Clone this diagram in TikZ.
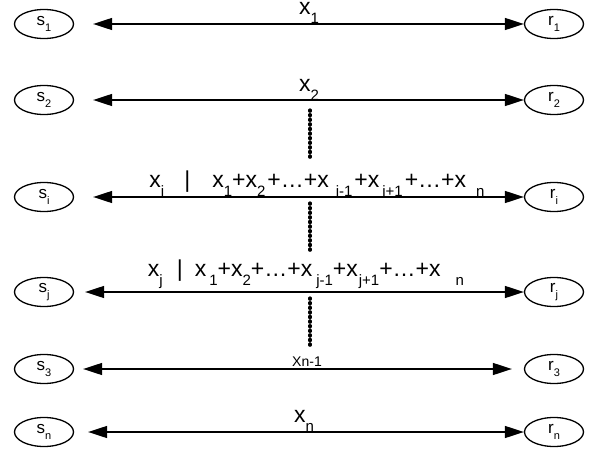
\documentclass[tikz,border=0pt]{standalone}
\usepackage{fontspec}
\setmainfont{Liberation Sans}
\usetikzlibrary{shapes.geometric,arrows.meta}
\newcommand{\lsub}[1]{\raisebox{-9pt}{\fontsize{15}{15}\selectfont #1}}
\newcommand{\nsub}[1]{\raisebox{-6pt}{\fontsize{11}{11}\selectfont #1}}

\begin{document}
\begin{tikzpicture}[x=1pt, y=-1pt,
    every node/.style={font=\fontsize{23}{23}\selectfont, inner sep=0pt},
    party/.style={draw, ellipse, line width=1.3pt, inner sep=0pt,
      minimum width=59pt, minimum height=29pt, font=\fontsize{17}{17}\selectfont},
    link/.style={{Triangle[length=19pt,width=12pt]}-{Triangle[length=19pt,width=12pt]},
      line width=1.4pt},
    beads/.style={line width=3.2pt, line cap=round, dash pattern=on 1.2pt off 3.4pt}]

    \useasboundingbox (0,0) rectangle (595,460);

    % Senders
    \node[party] (s1) at (44,24) {s\nsub{1}};
    \node[party] (s2) at (44,100) {s\nsub{2}};
    \node[party] (si) at (44,197) {s\nsub{i}};
    \node[party] (sj) at (44,292) {s\nsub{j}};
    \node[party] (s3) at (44,369) {s\nsub{3}};
    \node[party] (sn) at (44,432) {s\nsub{n}};

    % Receivers
    \node[party] (r1) at (554,24) {r\nsub{1}};
    \node[party] (r2) at (554,100) {r\nsub{2}};
    \node[party] (ri) at (554,197) {r\nsub{i}};
    \node[party] (rj) at (554,292) {r\nsub{j}};
    \node[party] (r3) at (554,369) {r\nsub{3}};
    \node[party] (rn) at (554,432) {r\nsub{n}};

    % Channels
    \draw[link, shorten <=19pt] (s1) -- (r1);
    \draw[link, shorten <=19pt] (s2) -- (r2);
    \draw[link, shorten <=19pt] (si) -- (ri);
    \draw[link, shorten <=11pt] (sj) -- (rj);
    \draw[link, shorten <=9pt, shorten >=12pt] (s3) -- (r3);
    \draw[link, shorten <=14pt] (sn) -- (rn);

    % Channel labels
    \node[anchor=base] (l1) at (309,15) {x\lsub{1}};
    \node[anchor=base] (l2) at (309,92) {x\lsub{2}};
    \node[anchor=base] (li) at (317,187)
      {x\lsub{i}\hspace{20pt}|\hspace{22pt}x\lsub{1}+x\lsub{2}\hspace{2pt}+…+x\hspace{7pt}\lsub{i-1}\hspace{2pt}+x\hspace{3pt}\lsub{i+1}\hspace{2pt}+…+x\hspace{10pt}\lsub{n}};
    \node[anchor=base] (lj) at (306,276)
      {x\lsub{j}\hspace{14pt}|\hspace{12pt}x\hspace{3pt}\lsub{1}+x\lsub{2}+…+x\hspace{4pt}\lsub{j-1}+x\hspace{1pt}\lsub{j+1}+…+x\hspace{15pt}\lsub{n}};
    \node[anchor=base, font=\fontsize{14}{14}\selectfont] (l3) at (307,366) {Xn-1};
    \node[anchor=base] (ln) at (304,422) {x\lsub{n}};

    % Omitted channels
    \draw[beads] (310,110) -- (310,160);
    \draw[beads] (310,203) -- (310,252);
    \draw[beads] (310,298) -- (310,348);

\end{tikzpicture}
\end{document}
